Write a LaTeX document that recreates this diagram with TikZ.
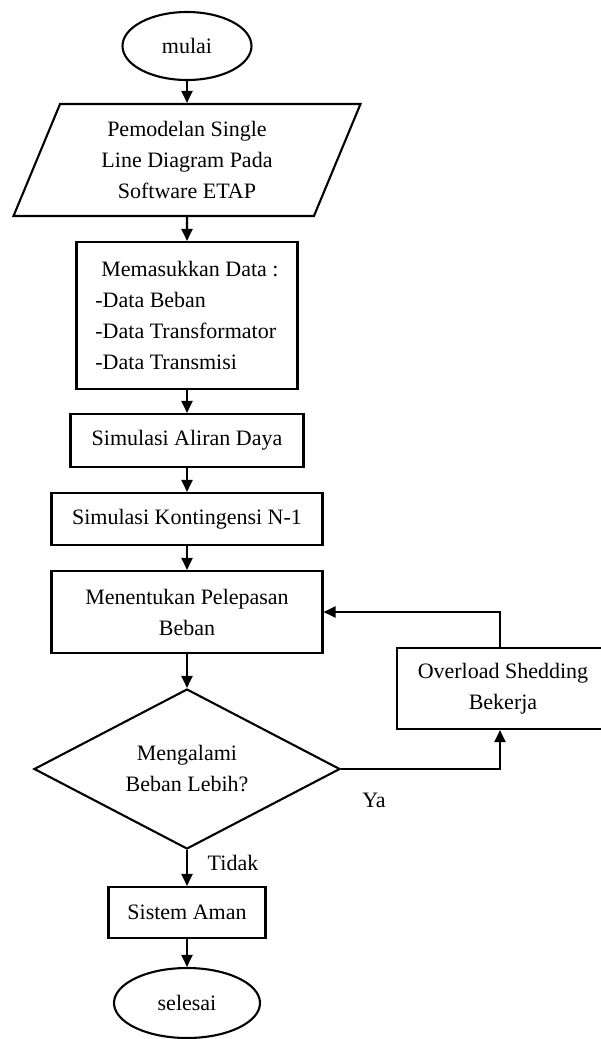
\documentclass[tikz,border=0pt]{standalone}
\usepackage{fontspec}
\setmainfont{Liberation Serif}
\usetikzlibrary{shapes.geometric,arrows.meta}
\begin{document}
\begin{tikzpicture}[x=1pt,y=-1pt,line width=2.1pt,font=\fontsize{22}{31}\selectfont,
  box/.style={draw,rectangle,inner sep=0pt,align=center},
  term/.style={draw,ellipse,inner sep=0pt},
  arr/.style={-{Triangle[length=12pt,width=11pt]}}]
\clip (0,0) rectangle (601,1039);
\node[term,minimum width=129,minimum height=68] (start) at (187,46) {mulai};
\node[draw,trapezium,trapezium left angle=59,trapezium right angle=121,trapezium stretches body,
  inner sep=0pt,align=center,minimum width=347,minimum height=112] (model) at (187,160)
  {Pemodelan Single\\Line Diagram Pada\\Software ETAP};
\node[box,align=left,minimum width=221,minimum height=147] (data) at (187,315.5)
  {\hspace{6pt}Memasukkan Data :\\-Data Beban\\-Data Transformator\\-Data Transmisi};
\node[box,minimum width=233,minimum height=53] (aliran) at (187,440.5) {Simulasi Aliran Daya};
\node[box,minimum width=271,minimum height=52] (kont) at (187,519) {Simulasi Kontingensi N-1};
\node[box,minimum width=271,minimum height=82] (tentu) at (187,612) {Menentukan Pelepasan\\Beban};
\node[draw,diamond,aspect=1.9,inner sep=0pt,align=center,minimum width=306,minimum height=160] (cek) at (187,769)
  {Mengalami\\Beban Lebih?};
\node[box,minimum width=157,minimum height=51] (aman) at (187,912.5) {Sistem Aman};
\node[term,minimum width=146,minimum height=70] (stop) at (187,1003) {selesai};
\node[box,minimum width=212,minimum height=81] (shed) at (503,688.5) {Overload Shedding\\Bekerja};
\node (ya) at (374,800) {Ya};
\node (tidak) at (233,863) {Tidak};
% main chain
\foreach \a/\b in {start/model,model/data,data/aliran,aliran/kont,kont/tentu,tentu/cek,cek/aman,aman/stop}
  \draw[arr] (\a) -- (\b);
% loop back
\draw[arr] (cek.east) -| ([xshift=-3pt]shed.south);
\draw[arr] ([xshift=-3pt]shed.north) |- (tentu.east);
\end{tikzpicture}
\end{document}
